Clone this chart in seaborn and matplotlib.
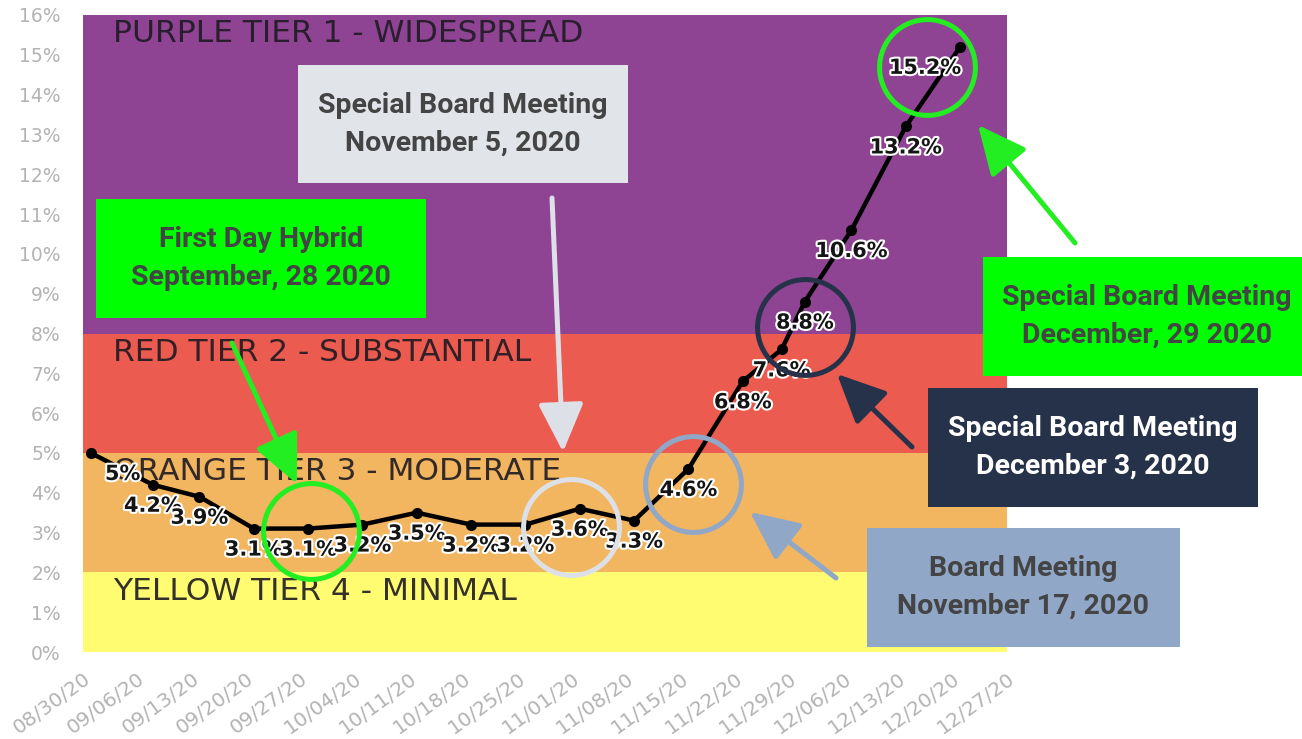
import matplotlib
matplotlib.use("Agg")
import matplotlib.pyplot as plt
import matplotlib.patheffects as pe
from matplotlib.patches import Rectangle
from matplotlib.transforms import offset_copy
import seaborn as sns
import pandas as pd

# --- data ---
dates = ['2020-08-31', '2020-09-08', '2020-09-14', '2020-09-21', '2020-09-28',
         '2020-10-05', '2020-10-12', '2020-10-19', '2020-10-26', '2020-11-02',
         '2020-11-09', '2020-11-16', '2020-11-23', '2020-11-28', '2020-12-01',
         '2020-12-07', '2020-12-14', '2020-12-21']
rates = [5.0, 4.2, 3.9, 3.1, 3.1, 3.2, 3.5, 3.2, 3.2, 3.6,
         3.3, 4.6, 6.8, 7.6, 8.8, 10.6, 13.2, 15.2]
rate_labels = ['5%', '4.2%', '3.9%', '3.1%', '3.1%', '3.2%', '3.5%', '3.2%', '3.2%',
               '3.6%', '3.3%', '4.6%', '6.8%', '7.6%', '8.8%', '10.6%', '13.2%', '15.2%']
week_ticks = ['08/30/20', '09/06/20', '09/13/20', '09/20/20', '09/27/20', '10/04/20',
              '10/11/20', '10/18/20', '10/25/20', '11/01/20', '11/08/20', '11/15/20',
              '11/22/20', '11/29/20', '12/06/20', '12/13/20', '12/20/20', '12/27/20']
tier_names = ['YELLOW TIER 4 - MINIMAL', 'ORANGE TIER 3 - MODERATE',
              'RED TIER 2 - SUBSTANTIAL', 'PURPLE TIER 1 - WIDESPREAD']
tier_bounds = [0, 2, 5, 8, 16]
tier_colors = ['#fffc72', '#f2b560', '#ec5b4f', '#8e4493']

df = pd.DataFrame({'date': pd.to_datetime(dates), 'rate': rates})
tick_dates = pd.to_datetime(week_ticks, format='%m/%d/%y')

W, H = 1302, 739


def fx(x):
    return x / W


def fy(y):
    return 1 - y / H


sns.set_style('white')
plt.rcParams['font.family'] = ['DejaVu Sans']

fig = plt.figure(figsize=(W / 100, H / 100), dpi=100)
ax = fig.add_axes([fx(83), fy(652), fx(1006.7) - fx(83), fy(15) - fy(652)])

# tier bands
for i, name in enumerate(tier_names):
    ax.axhspan(tier_bounds[i], tier_bounds[i + 1], color=tier_colors[i], lw=0, zorder=0)
    ax.annotate(name, xy=(0, tier_bounds[i + 1]), xycoords=('axes fraction', 'data'),
                xytext=(30, -19), textcoords='offset pixels', va='center', ha='left',
                fontsize=22.5, color='#1e1a22', alpha=0.9, zorder=1)

sns.lineplot(data=df, x='date', y='rate', ax=ax, color='black', lw=3.2,
             marker='o', markersize=8, markeredgewidth=0, zorder=3)

# value labels under each point
nudge = {0: 32, 17: -35}
for i, (d, v, t) in enumerate(zip(df['date'], rates, rate_labels)):
    ax.annotate(t, xy=(d, v), xytext=(nudge.get(i, 0), -21), textcoords='offset pixels',
                ha='center', va='center', fontsize=15, fontweight='bold', color='#151515',
                zorder=4, path_effects=[pe.withStroke(linewidth=3, foreground='white')])

ax.set_xlim(tick_dates[0], tick_dates[-1])
ax.set_ylim(0, 16)
ax.set_xticks(tick_dates)
ax.set_xticklabels(week_ticks, rotation=36, ha='right', rotation_mode='anchor')
ax.set_yticks(range(0, 17))
ax.set_yticklabels([f'{v}%' for v in range(0, 17)])
ax.tick_params(axis='both', colors='#e6e6e6', labelcolor='#b3b3b3', width=1.5)
ax.tick_params(axis='y', length=8, pad=8, labelsize=13.5)
ax.tick_params(axis='x', length=7, pad=5, labelsize=14.5)
ax.set_xlabel('')
ax.set_ylabel('')
for s in ax.spines.values():
    s.set_visible(False)

# highlight circles around meeting points (index, colour, pixel offset)
circles = [(4, '#22ee22', (3, -2)), (9, '#dde1e7', (-9, -18)), (11, '#91a7c7', (5, -15)),
           (14, '#263249', (0, -25)), (17, '#22ee22', (-33, -20))]
for idx, col, (dx, dy) in circles:
    tr = offset_copy(ax.transData, fig=fig, x=dx, y=dy, units='dots')
    ax.plot(df['date'][idx], rates[idx], marker='o', ms=69, mfc='none', mec=col,
            mew=3.6, transform=tr, zorder=6, clip_on=False)

# arrows (figure pixels, y measured from top)
arrows = [((232, 343), (297, 484), '#22ee22'), ((552, 198), (563, 452), '#dde1e7'),
          ((836, 578), (750, 512), '#91a7c7'), ((912, 447), (837, 374), '#263249'),
          ((1075, 243), (978, 125), '#22ee22')]
for (x0, y0), (x1, y1), col in arrows:
    ax.annotate('', xy=(x1, H - y1), xycoords='figure pixels',
                xytext=(x0, H - y0), textcoords='figure pixels',
                arrowprops=dict(arrowstyle='-|>,head_length=0.75,head_width=0.35',
                                mutation_scale=40, color=col, lw=3.6,
                                shrinkA=0, shrinkB=0), zorder=7)

# call-out boxes
boxes = [
    ('Special Board Meeting\nNovember 5, 2020', (298, 65, 628, 183), '#e1e4e9', '#444444', 463),
    ('First Day Hybrid\nSeptember, 28 2020', (96, 199, 426, 318), '#00ff00', '#444444', 261),
    ('Special Board Meeting\nDecember, 29 2020', (983, 257, 1310, 376), '#00ff00', '#444444', 1147),
    ('Special Board Meeting\nDecember 3, 2020', (928, 388, 1258, 507), '#263249', 'white', 1093),
    ('Board Meeting\nNovember 17, 2020', (867, 528, 1180, 647), '#91a7c7', '#444444', 1023),
]
for text, (x0, y0, x1, y1), bg, fg, xc in boxes:
    fig.add_artist(Rectangle((fx(x0), fy(y1)), fx(x1) - fx(x0), fy(y0) - fy(y1),
                             transform=fig.transFigure, facecolor=bg, edgecolor='none',
                             zorder=8))
    fig.text(fx(xc), fy((y0 + y1) / 2), text, ha='center', va='center',
             fontsize=20.5, fontweight='bold', color=fg, linespacing=1.5,
             family='Roboto', zorder=9)

fig.savefig('out.png', dpi=100)
